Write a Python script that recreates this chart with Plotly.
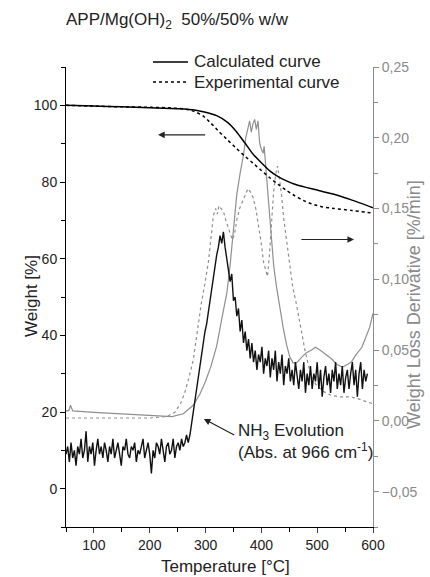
import plotly.graph_objects as go

# ---------------- data ----------------
# TG curves, weight [%] vs temperature [°C]
calc_T = [50, 100, 150, 200, 250, 280, 300, 320, 340, 355, 370, 385, 400, 415, 430, 445, 460, 480, 500, 530, 560, 600]
calc_W = [100.0, 99.8, 99.6, 99.4, 99.1, 98.8, 98.2, 97.3, 95.5, 93.2, 90.3, 87.3, 85.0, 82.9, 81.4, 80.3, 79.4, 78.6, 77.9, 76.8, 75.4, 73.3]

exp_T = [50, 100, 150, 200, 240, 265, 280, 295, 310, 325, 340, 355, 370, 385, 400, 415, 430, 445, 460, 475, 490, 510, 530, 560, 600]
exp_W = [100.0, 99.8, 99.6, 99.5, 99.3, 99.0, 98.4, 97.3, 95.3, 93.0, 90.9, 88.8, 86.8, 84.9, 83.0, 81.1, 79.4, 77.8, 76.4, 75.2, 74.3, 73.5, 73.1, 72.6, 71.9]

# DTG curves, weight loss derivative [%/min]
dtg_calc_T = [50, 55, 58, 62, 100, 150, 200, 240, 260, 278, 290, 300, 310, 320, 330, 338, 344, 350, 356, 362, 368,
              372, 376, 379, 382, 385, 388, 391, 394, 397, 400, 403, 405, 407, 410, 414, 418, 422, 427, 433, 439,
              445, 451, 457, 463, 470, 480, 490, 497, 505, 515, 525, 535, 545, 555, 562, 570, 580, 588, 594, 600]
dtg_calc_V = [0.007, 0.007, 0.011, 0.007, 0.006, 0.005, 0.004, 0.003, 0.005, 0.011, 0.019, 0.028, 0.039, 0.053, 0.074, 0.090,
              0.110, 0.138, 0.160, 0.175, 0.188, 0.200, 0.206, 0.212, 0.204, 0.210, 0.213, 0.206, 0.212, 0.196, 0.192,
              0.189, 0.194, 0.184, 0.170, 0.150, 0.128, 0.110, 0.095, 0.080, 0.066, 0.054, 0.045, 0.041, 0.041, 0.044,
              0.048, 0.050, 0.052, 0.050, 0.047, 0.044, 0.040, 0.038, 0.040, 0.042, 0.047, 0.052, 0.060, 0.066, 0.076]

dtg_exp_T = [50, 100, 150, 200, 230, 245, 255, 262, 270, 278, 286, 292, 298, 305, 310, 314, 318, 321, 324, 328, 332, 336,
             340, 344, 348, 352, 356, 361, 366, 371, 376, 380, 385, 390, 395, 400, 404, 408, 411, 414, 418, 422, 426,
             429, 432, 436, 440, 445, 450, 456, 463, 470, 478, 487, 497, 510, 525, 540, 555, 570, 585, 600]
dtg_exp_V = [0.002, 0.002, 0.002, 0.002, 0.003, 0.006, 0.012, 0.019, 0.030, 0.043, 0.065, 0.082, 0.095, 0.112, 0.130, 0.145,
             0.150, 0.146, 0.152, 0.150, 0.148, 0.142, 0.137, 0.132, 0.128, 0.132, 0.142, 0.150, 0.155, 0.160, 0.164,
             0.162, 0.158, 0.150, 0.138, 0.125, 0.112, 0.105, 0.102, 0.115, 0.140, 0.162, 0.175, 0.180, 0.172, 0.160,
             0.143, 0.128, 0.110, 0.095, 0.082, 0.066, 0.050, 0.035, 0.026, 0.021, 0.018, 0.017, 0.017, 0.016, 0.014,
             0.012]

# NH3 evolution (absorbance at 966 cm-1), plotted on the weight scale; one reading every 3 °C from 50 °C
nh3_T0 = 50
nh3_step = 3
nh3_W = [9, 11, 7, 12, 8, 10, 6, 11, 9, 13, 8, 10, 15, 7, 11, 9, 12, 6, 10, 13, 9, 11, 8, 12, 10, 7, 11, 9, 13, 8,
         10, 12, 9, 6, 11, 10, 13, 9, 8, 11, 10, 12, 7, 10, 9, 11, 13, 8, 10, 12, 9, 4, 10, 8, 12, 11, 9, 13, 10, 7,
         11, 12, 9, 10, 13, 8, 11, 12, 10, 13, 11, 12, 14, 12,
         14, 17, 21, 24, 27, 29, 32, 35, 38, 41, 43, 46, 49, 53, 56, 58, 61, 63, 66, 64, 67, 63,
         60, 58, 54, 56, 49, 50, 45, 47, 41, 44, 38, 41, 36, 39, 34, 38, 33, 36, 31, 35, 33, 37, 30, 34, 32, 36, 29,
         34, 31, 36, 28, 33, 30, 35, 27, 32, 30, 34, 28, 31, 27, 33, 29, 26, 31, 28, 33, 25, 30, 27, 32, 26, 30, 28,
         33, 26, 31, 24, 29, 32, 27, 30, 25, 31, 28, 33, 26, 30, 27, 32, 25, 29, 31, 26, 30, 33, 27, 31, 24, 30, 33,
         26, 31, 28, 30]
nh3_T = [nh3_T0 + nh3_step * i for i in range(len(nh3_W))]

# texts
title_txt = "APP/Mg(OH)<sub>2</sub>  50%/50% w/w"
legend_names = ["Calculated curve", "Experimental curve"]
nh3_txt = "NH<sub>3</sub> Evolution<br>(Abs. at 966 cm<sup>-1</sup>)"

GREY = "#8f8f8f"
GREY_AX = "#8a8a8a"
FONT = "Liberation Sans, Arial, sans-serif"
TXT = "#222"

fig = go.Figure()
# grey DTG curves on the (bottom layer) right axis
fig.add_trace(go.Scatter(x=dtg_exp_T, y=dtg_exp_V, mode="lines", yaxis="y",
                         line=dict(color=GREY, width=1.2, dash="dot"), showlegend=False))
fig.add_trace(go.Scatter(x=dtg_calc_T, y=dtg_calc_V, mode="lines", yaxis="y",
                         line=dict(color=GREY, width=1.2), showlegend=False))
# black curves on the weight axis
fig.add_trace(go.Scatter(x=nh3_T, y=nh3_W, mode="lines", yaxis="y2",
                         line=dict(color="#111111", width=1.4), showlegend=False))
fig.add_trace(go.Scatter(x=calc_T, y=calc_W, mode="lines", yaxis="y2", name=legend_names[0], showlegend=False,
                         line=dict(color="black", width=1.5, shape="spline", smoothing=0.6)))
fig.add_trace(go.Scatter(x=exp_T, y=exp_W, mode="lines", yaxis="y2", name=legend_names[1], showlegend=False,
                         line=dict(color="black", width=1.5, dash="dot", shape="spline", smoothing=0.6)))

# plot area in pixels: x 66..373, y 67..527
def px(xp):
    return (xp - 66) / 307.0

def py(yp):
    return (527 - yp) / 460.0

ann = []
ann.append(dict(text=title_txt, xref="paper", yref="paper", x=px(64), y=py(21), xanchor="left", yanchor="middle",
                showarrow=False, font=dict(size=17, color=TXT)))
ann.append(dict(text="Weight [%]", xref="paper", yref="paper", x=px(31), y=py(296), textangle=-90,
                xanchor="center", yanchor="middle", showarrow=False, font=dict(size=17, color=TXT)))
ann.append(dict(text="Temperature [°C]", xref="paper", yref="paper", x=px(225), y=py(566),
                xanchor="center", yanchor="middle", showarrow=False, font=dict(size=17, color=TXT)))
ann.append(dict(text="Weight Loss Derivative [%/min]", xref="paper", yref="paper", x=px(414), y=py(305),
                textangle=-90, xanchor="center", yanchor="middle", showarrow=False,
                font=dict(size=18, color=GREY_AX)))
# legend (drawn manually)
legend_rows = [62, 82]
shapes = []
for name, yrow, dash in zip(legend_names, legend_rows, ["solid", "dot"]):
    shapes.append(dict(type="line", xref="paper", yref="paper", x0=px(153), x1=px(188), y0=py(yrow), y1=py(yrow),
                       line=dict(color="black", width=1.3, dash=dash)))
    ann.append(dict(text=name, xref="paper", yref="paper", x=px(192), y=py(yrow), xanchor="left",
                    yanchor="middle", showarrow=False, font=dict(size=17, color=TXT)))
# NH3 text and arrow
ann.append(dict(text=nh3_txt, xref="x", yref="y2", x=355, y=12.3, xanchor="left", yanchor="middle", align="left",
                showarrow=False, font=dict(size=17, color=TXT)))
ann.append(dict(text="", xref="x", yref="y2", x=297, y=18.2, axref="x", ayref="y2", ax=354, ay=13.8,
                showarrow=True, arrowhead=2, arrowsize=1.1, arrowwidth=1.2, arrowcolor=TXT))
# direction arrows
ann.append(dict(text="", xref="x", yref="y2", x=215, y=92.3, axref="x", ayref="y2", ax=302, ay=92.3,
                showarrow=True, arrowhead=2, arrowsize=1.1, arrowwidth=1.2, arrowcolor=TXT))
ann.append(dict(text="", xref="x", yref="y2", x=566, y=65, axref="x", ayref="y2", ax=469, ay=65,
                showarrow=True, arrowhead=2, arrowsize=1.1, arrowwidth=1.2, arrowcolor=TXT))

fig.update_layout(
    width=430, height=577,
    margin=dict(l=66, r=57, t=67, b=50),
    paper_bgcolor="white", plot_bgcolor="white",
    separators=",.",
    font=dict(family=FONT, size=14, color=TXT),
    showlegend=False,
    annotations=ann,
    shapes=shapes,
    xaxis=dict(range=[50, 600], tick0=0, dtick=100, ticks="outside", ticklen=5, tickwidth=1,
               showline=True, linecolor="black", linewidth=1, showgrid=False, zeroline=False,
               tickfont=dict(size=14, color=TXT),
               minor=dict(dtick=50, tick0=0, ticks="outside", ticklen=4, tickcolor="black", showgrid=False)),
    yaxis=dict(range=[-0.075, 0.25], side="right", tick0=0, dtick=0.05, tickformat=".2f",
               ticks="outside", ticklen=5, tickwidth=1, tickcolor=GREY_AX,
               showline=True, linecolor=GREY_AX, linewidth=1, showgrid=False, zeroline=False,
               tickfont=dict(size=14, color=GREY_AX),
               minor=dict(dtick=0.025, tick0=0, ticks="outside", ticklen=4, tickcolor=GREY_AX, showgrid=False)),
    yaxis2=dict(range=[-10, 110], side="left", overlaying="y", anchor="x", tick0=0, dtick=20,
                ticks="outside", ticklen=5, tickwidth=1, tickcolor="black",
                showline=True, linecolor="black", linewidth=1, showgrid=False, zeroline=False,
                tickfont=dict(size=14, color=TXT),
                minor=dict(dtick=10, tick0=0, ticks="outside", ticklen=4, tickcolor="black", showgrid=False)),
)

fig.write_html("out.html", config={"displayModeBar": False},
               post_script="document.body.style.margin='0';document.body.style.padding='0';")
